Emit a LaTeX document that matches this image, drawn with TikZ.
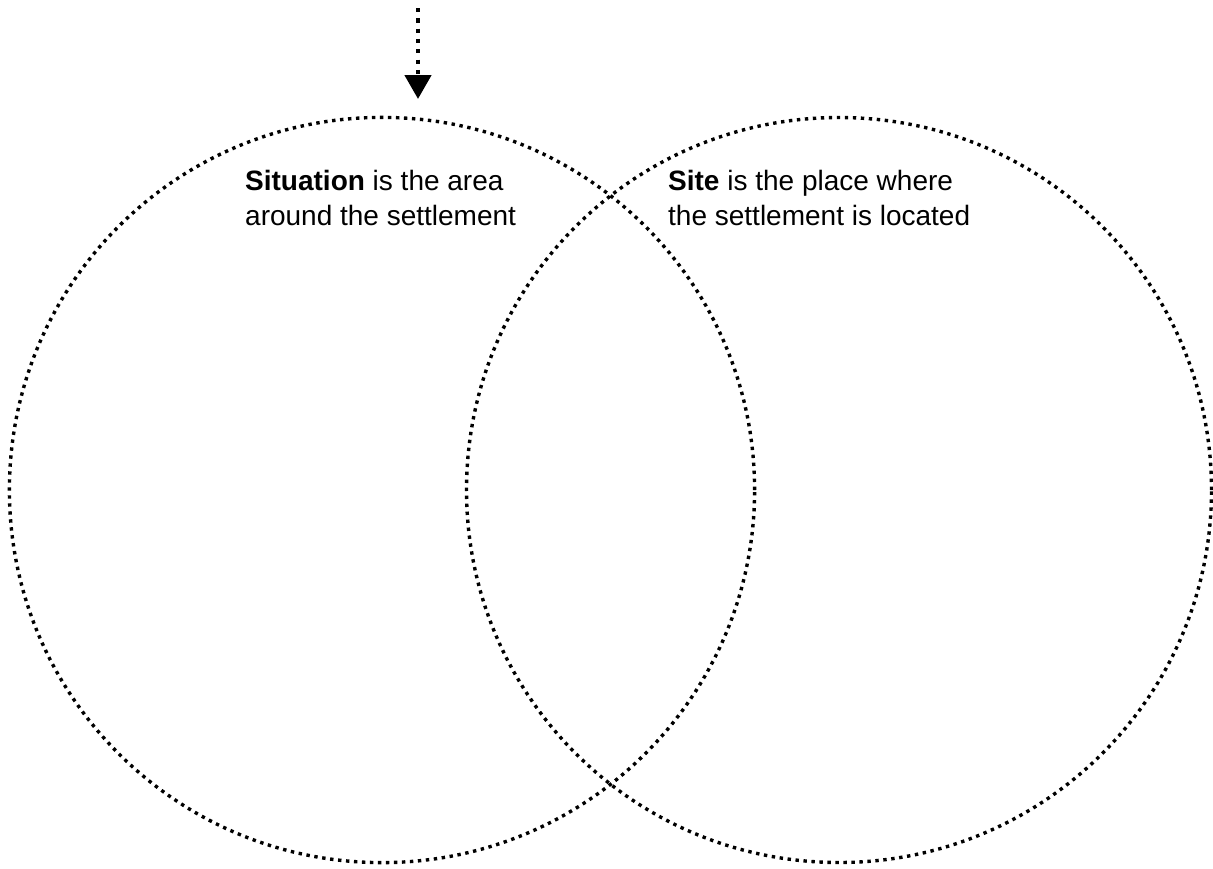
\documentclass[tikz,border=0pt]{standalone}
\usepackage{fontspec}
\setmainfont{Liberation Sans}
\usetikzlibrary{arrows.meta}
\tikzset{
  ring/.style={line width=3.4pt, dash pattern=on 3.4pt off 4.6pt, line cap=butt},
  pointer/.style={line width=4.6pt, dash pattern=on 4.2pt off 6.1pt, line cap=butt,
    -{Triangle[width=26pt,length=24pt]}},
  label/.style={inner sep=0pt, align=left, anchor=base west,
    font=\fontsize{28pt}{35pt}\selectfont}
}
\begin{document}
\begin{tikzpicture}[x=1pt,y=-1pt]
\useasboundingbox (0,0) rectangle (1213,868);
\node[circle, draw, ring, minimum size=745.2pt, inner sep=0pt] (left) at (382,490) {};
\node[circle, draw, ring, minimum size=745pt, inner sep=0pt] (right) at (839,490) {};
\coordinate (start) at (418,8);
\coordinate (tip) at (418,99);
\draw[pointer] (start) -- (tip);
% base anchor of a multi-line node is the baseline of its last line
\node[label] (situation) at (245,225) {\textbf{Situation} is the area\\around the settlement};
\node[label] (site) at (668,225) {\textbf{Site} is the place where\\the settlement is located};
\end{tikzpicture}
\end{document}
